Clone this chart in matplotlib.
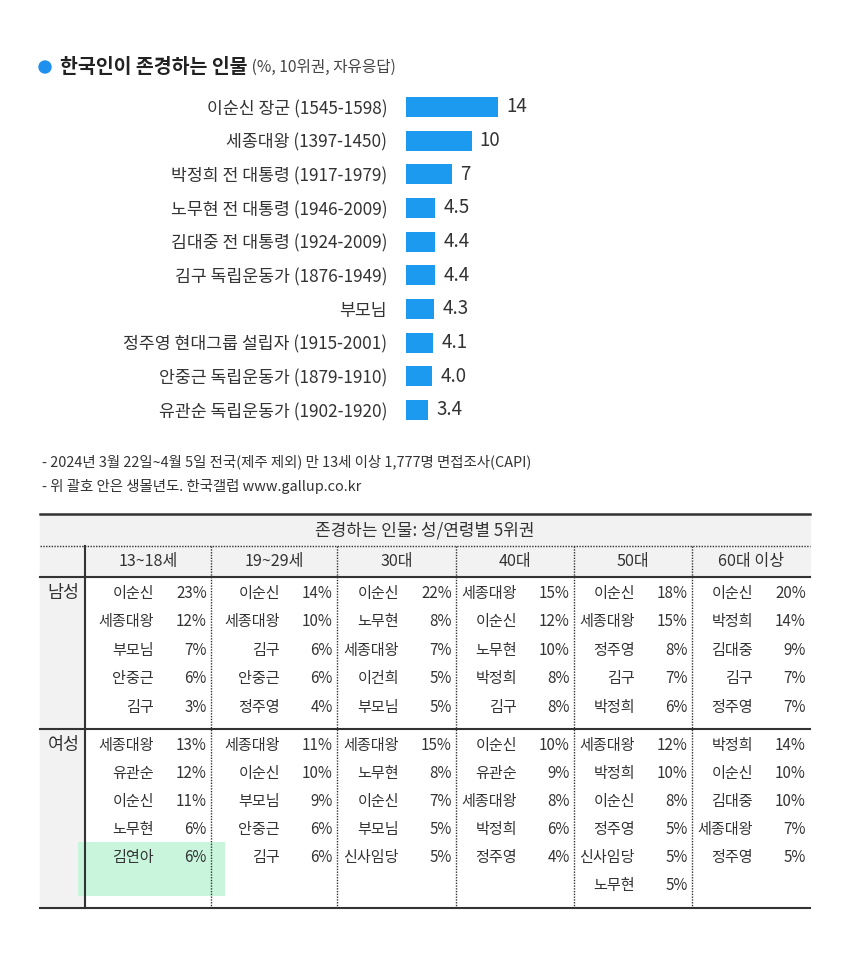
import matplotlib
matplotlib.use("Agg")
import matplotlib.pyplot as plt
from matplotlib.patches import Rectangle, Circle

plt.rcParams['font.family'] = ['Noto Sans CJK KR', 'DejaVu Sans']

# ---------------- data ----------------
title_main = '한국인이 존경하는 인물'
title_sub = ' (%, 10위권, 자유응답)'

categories = ['이순신 장군 (1545-1598)', '세종대왕 (1397-1450)', '박정희 전 대통령 (1917-1979)',
              '노무현 전 대통령 (1946-2009)', '김대중 전 대통령 (1924-2009)', '김구 독립운동가 (1876-1949)',
              '부모님', '정주영 현대그룹 설립자 (1915-2001)', '안중근 독립운동가 (1879-1910)',
              '유관순 독립운동가 (1902-1920)']
values = [14, 10, 7, 4.5, 4.4, 4.4, 4.3, 4.1, 4.0, 3.4]
value_labels = ['14', '10', '7', '4.5', '4.4', '4.4', '4.3', '4.1', '4.0', '3.4']

footnotes = ['- 2024년 3월 22일~4월 5일 전국(제주 제외) 만 13세 이상 1,777명 면접조사(CAPI)',
             '- 위 괄호 안은 생몰년도. 한국갤럽 www.gallup.co.kr']

table_title = '존경하는 인물: 성/연령별 5위권'
age_groups = ['13~18세', '19~29세', '30대', '40대', '50대', '60대 이상']
sex_labels = ['남성', '여성']

male_names = [['이순신', '세종대왕', '부모님', '안중근', '김구'],
              ['이순신', '세종대왕', '김구', '안중근', '정주영'],
              ['이순신', '노무현', '세종대왕', '이건희', '부모님'],
              ['세종대왕', '이순신', '노무현', '박정희', '김구'],
              ['이순신', '세종대왕', '정주영', '김구', '박정희'],
              ['이순신', '박정희', '김대중', '김구', '정주영']]
male_pcts = [[23, 12, 7, 6, 3], [14, 10, 6, 6, 4], [22, 8, 7, 5, 5],
             [15, 12, 10, 8, 8], [18, 15, 8, 7, 6], [20, 14, 9, 7, 7]]
female_names = [['세종대왕', '유관순', '이순신', '노무현', '김연아'],
                ['세종대왕', '이순신', '부모님', '안중근', '김구'],
                ['세종대왕', '노무현', '이순신', '부모님', '신사임당'],
                ['이순신', '유관순', '세종대왕', '박정희', '정주영'],
                ['세종대왕', '박정희', '이순신', '정주영', '신사임당', '노무현'],
                ['박정희', '이순신', '김대중', '세종대왕', '정주영']]
female_pcts = [[13, 12, 11, 6, 6], [11, 10, 9, 6, 6], [15, 8, 7, 5, 5],
               [10, 9, 8, 6, 4], [12, 10, 8, 5, 5, 5], [14, 10, 10, 7, 5]]

# ---------------- styles ----------------
W, H = 850, 980
BAR_COLOR = '#1b9af0'
TEXT = '#333333'
GRID = '#333333'
HEADER_BG = '#f2f2f2'

fig = plt.figure(figsize=(W / 100, H / 100), dpi=100)
fig.patch.set_facecolor('white')

# overlay axes in pixel coordinates
ov = fig.add_axes([0, 0, 1, 1])
ov.set_xlim(0, W)
ov.set_ylim(H, 0)
ov.axis('off')

# title
ov.add_patch(Circle((45, 67), 6, color='#1e90ee', zorder=3))
t_main = ov.text(60, 67, title_main, fontsize=14, fontweight='bold', color='#222222',
                 ha='left', va='center')
ov.annotate(title_sub, xy=(1, 0.5), xycoords=t_main, fontsize=11.3, color='#444444',
            ha='left', va='center')

# ---------------- bar chart ----------------
px_per_unit = 6.55
bar_left = 406
row_top, row_bot = 107, 410
step = (row_bot - row_top) / (len(categories) - 1)
ax_top = row_top - step / 2
ax_bot = row_bot + step / 2
xmax = 20
bax = fig.add_axes([bar_left / W, 1 - ax_bot / H, xmax * px_per_unit / W, (ax_bot - ax_top) / H])
ypos = list(range(len(categories)))
bax.barh(ypos, values, height=0.6, color=BAR_COLOR)
bax.set_xlim(0, xmax)
bax.set_ylim(len(categories) - 0.5, -0.5)
bax.set_yticks(ypos)
bax.set_yticklabels(categories, fontsize=12.4, color=TEXT)
bax.tick_params(axis='y', length=0, pad=13.5)
bax.set_xticks([])
for s in bax.spines.values():
    s.set_visible(False)
bax.patch.set_alpha(0)
for y, v, lab in zip(ypos, values, value_labels):
    bax.annotate(lab, xy=(v, y), xytext=(6, 0), textcoords='offset points',
                 fontsize=13.5, color=TEXT, ha='left', va='center')

# ---------------- footnotes ----------------
for i, fn in enumerate(footnotes):
    ov.text(42, 462 + i * 24, fn, fontsize=10.4, color=TEXT, ha='left', va='center')

# ---------------- table ----------------
tl, tr = 40, 810
y_top, y_h1, y_h2, y_mid, y_bot = 514, 546, 577, 729, 908
col_x = [85, 211, 337, 456, 574, 692, 810]

# backgrounds
ov.add_patch(Rectangle((tl, y_top), tr - tl, y_h2 - y_top, color=HEADER_BG, zorder=0))
ov.add_patch(Rectangle((tl, y_h2), col_x[0] - tl, y_bot - y_h2, color=HEADER_BG, zorder=0))

# highlight
ov.add_patch(Rectangle((78, 842), 147, 54, color='#c8f5dc', zorder=0.5, lw=0))

# lines
ov.plot([tl, tr], [y_top, y_top], color=GRID, lw=1.8, zorder=2)
ov.plot([tl, tr], [y_h1, y_h1], color=GRID, lw=1.0, ls=(0, (1, 1)), zorder=2)
ov.plot([tl, tr], [y_h2, y_h2], color=GRID, lw=1.5, zorder=2)
ov.plot([tl, tr], [y_mid, y_mid], color=GRID, lw=1.5, zorder=2)
ov.plot([tl, tr], [y_bot, y_bot], color=GRID, lw=1.5, zorder=2)
ov.plot([col_x[0], col_x[0]], [y_h1, y_bot], color=GRID, lw=1.5, zorder=2)
for cx in col_x[1:-1]:
    ov.plot([cx, cx], [y_h1, y_bot], color=GRID, lw=1.0, ls=(0, (1, 1)), zorder=2)

# header texts
ov.text((tl + tr) / 2, (y_top + y_h1) / 2, table_title, fontsize=12.2, color=TEXT,
        ha='center', va='center')
for i, ag in enumerate(age_groups):
    ov.text((col_x[i] + col_x[i + 1]) / 2, (y_h1 + y_h2) / 2, ag, fontsize=11.6,
            color=TEXT, ha='center', va='center')

# body
sections = [(y_h2 + 16, 28.5, male_names, male_pcts),
            (y_mid + 16, 28.1, female_names, female_pcts)]
for (y0, row_h, names, pcts), sl in zip(sections, sex_labels):
    ov.text((tl + col_x[0]) / 2 + 1, y0, sl, fontsize=12.5, color=TEXT,
            ha='center', va='center')
    for c in range(len(age_groups)):
        right = col_x[c + 1]
        for r, (nm, p) in enumerate(zip(names[c], pcts[c])):
            yy = y0 + r * row_h
            ov.text(right - 57, yy, nm, fontsize=10.9, color=TEXT, ha='right', va='center', zorder=3)
            ov.text(right - 4, yy, f'{p}%', fontsize=10.9, color=TEXT, ha='right', va='center', zorder=3)

fig.savefig('out.png', dpi=100, facecolor='white')
